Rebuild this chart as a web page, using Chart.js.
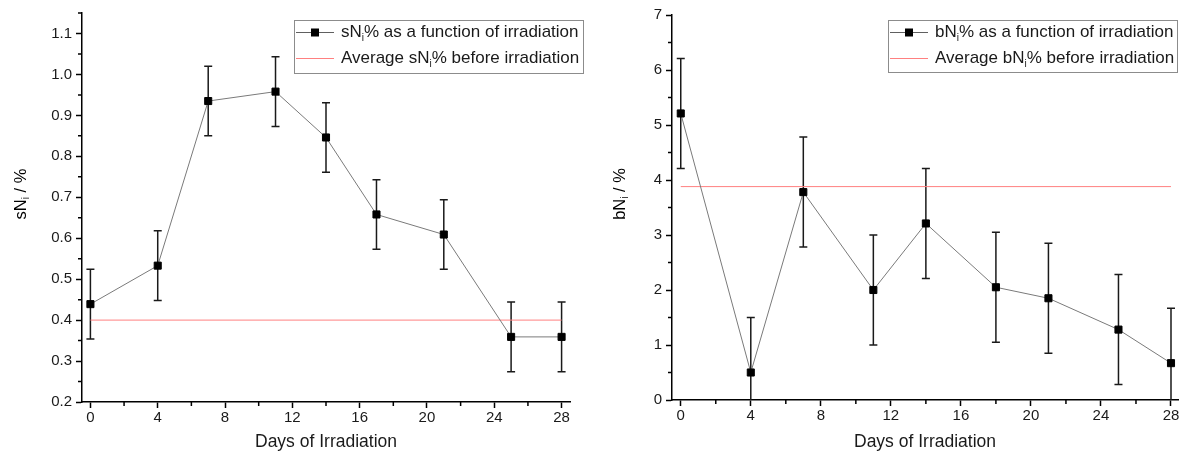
<!DOCTYPE html>
<html>
<head>
<meta charset="utf-8">
<script src="https://cdn.jsdelivr.net/npm/chart.js@4"></script>
<style>
  body { margin: 0; background: #fff; }
  .box { position: absolute; top: 0; width: 592px; height: 461px; }
  #left { left: 0; }
  #right { left: 592px; }
</style>
</head>
<body>
<div class="box" id="left"><canvas id="chartS"></canvas></div>
<div class="box" id="right"><canvas id="chartB"></canvas></div>
<script>
// data
const xTicks = [0, 4, 8, 12, 16, 20, 24, 28]
const xMinor = [2, 6, 10, 14, 18, 22, 26]

const daysS = [0, 4, 7, 11, 14, 17, 21, 25, 28]
const sNi = [0.439, 0.533, 0.935, 0.958, 0.846, 0.658, 0.609, 0.359, 0.359]
const sNiErr = [0.085, 0.085, 0.085, 0.085, 0.085, 0.085, 0.085, 0.085, 0.085]
const sNiAvg = 0.4
const sTicks = [0.2, 0.3, 0.4, 0.5, 0.6, 0.7, 0.8, 0.9, 1.0, 1.1]
const sMinor = [0.25, 0.35, 0.45, 0.55, 0.65, 0.75, 0.85, 0.95, 1.05, 1.15]

const daysB = [0, 4, 7, 11, 14, 18, 21, 25, 28]
const bNi = [5.21, 0.50, 3.78, 2.00, 3.21, 2.05, 1.85, 1.28, 0.67]
const bNiErr = [1.0, 1.0, 1.0, 1.0, 1.0, 1.0, 1.0, 1.0, 1.0]
const bNiAvg = 3.88
const bTicks = [0, 1, 2, 3, 4, 5, 6, 7]
const bMinor = [0.5, 1.5, 2.5, 3.5, 4.5, 5.5, 6.5]

const FONT = '"Liberation Sans", Arial, sans-serif'
const RED = '#ff8080'

// draws error bars, minor ticks, y title with subscript and the boxed legend
function extras(cfg) {
  return {
    id: 'extras',
    beforeDatasetsDraw(chart) {
      const ctx = chart.ctx, x = chart.scales.x, y = chart.scales.y, a = chart.chartArea
      ctx.save()
      ctx.beginPath()
      ctx.rect(a.left, a.top - 2, a.right - a.left, a.bottom - a.top + 2)
      ctx.clip()
      ctx.strokeStyle = '#1a1a1a'
      ctx.lineWidth = 1.5
      cfg.days.forEach((d, i) => {
        const px = x.getPixelForValue(d)
        const top = y.getPixelForValue(cfg.vals[i] + cfg.err[i])
        const bot = y.getPixelForValue(cfg.vals[i] - cfg.err[i])
        ctx.beginPath()
        ctx.moveTo(px, top); ctx.lineTo(px, bot)
        ctx.moveTo(px - 4, top); ctx.lineTo(px + 4, top)
        ctx.moveTo(px - 4, bot); ctx.lineTo(px + 4, bot)
        ctx.stroke()
      })
      ctx.restore()
    },
    afterDraw(chart) {
      const ctx = chart.ctx, x = chart.scales.x, y = chart.scales.y, a = chart.chartArea
      ctx.save()
      ctx.strokeStyle = '#000'
      ctx.lineWidth = 1.5
      ctx.beginPath()
      xMinor.forEach(v => {
        const px = x.getPixelForValue(v)
        ctx.moveTo(px, a.bottom); ctx.lineTo(px, a.bottom + 4)
      })
      cfg.yMinor.forEach(v => {
        const py = y.getPixelForValue(v)
        if (py < a.top - 1) return
        ctx.moveTo(a.left, py); ctx.lineTo(a.left - 4, py)
      })
      ctx.stroke()

      // y title, rotated, with subscript i
      ctx.fillStyle = '#000'
      ctx.translate(cfg.titleX, cfg.titleY)
      ctx.rotate(-Math.PI / 2)
      ctx.textBaseline = 'middle'
      const p1 = cfg.prefix + 'N', p2 = ' / %'
      ctx.font = '16.5px ' + FONT
      const w1 = ctx.measureText(p1).width
      const w2 = ctx.measureText(p2).width
      ctx.font = '10px ' + FONT
      const ws = ctx.measureText('i').width
      let sx = -(w1 + ws + w2) / 2
      ctx.font = '16.5px ' + FONT
      ctx.textAlign = 'left'
      ctx.fillText(p1, sx, 0)
      ctx.font = '10px ' + FONT
      ctx.fillText('i', sx + w1, 5)
      ctx.font = '16.5px ' + FONT
      ctx.fillText(p2, sx + w1 + ws, 0)
      ctx.setTransform(1, 0, 0, 1, 0, 0)

      // legend
      const L = cfg.legend
      ctx.strokeStyle = '#8c8c8c'
      ctx.lineWidth = 1
      ctx.strokeRect(L.x + 0.5, L.y + 0.5, L.w, L.h)
      const rows = [
        { y: L.y + 12.5, pre: cfg.prefix + 'N', post: '% as a function of irradiation', sym: true },
        { y: L.y + 38.5, pre: 'Average ' + cfg.prefix + 'N', post: '% before irradiation', sym: false }
      ]
      rows.forEach(r => {
        ctx.beginPath()
        ctx.strokeStyle = r.sym ? '#606060' : RED
        ctx.lineWidth = 1
        ctx.moveTo(L.x + 2, r.y); ctx.lineTo(L.x + 40, r.y)
        ctx.stroke()
        if (r.sym) {
          ctx.fillStyle = '#000'
          ctx.fillRect(L.x + 17, r.y - 4, 8, 8)
        }
        ctx.fillStyle = '#1a1a1a'
        ctx.textBaseline = 'middle'
        ctx.font = '17px ' + FONT
        let tx = L.x + 47
        ctx.fillText(r.pre, tx, r.y)
        tx += ctx.measureText(r.pre).width
        ctx.font = '10px ' + FONT
        ctx.fillText('i', tx, r.y + 6)
        tx += ctx.measureText('i').width
        ctx.font = '17px ' + FONT
        ctx.fillText(r.post, tx, r.y)
      })
      ctx.restore()
    }
  }
}

function makeChart(id, cfg) {
  const lineData = cfg.days.map((d, i) => ({ x: d, y: cfg.vals[i] }))
  const avgData = [{ x: 0, y: cfg.avg }, { x: 28, y: cfg.avg }]
  return new Chart(document.getElementById(id), {
    type: 'scatter',
    data: {
      datasets: [
        {
          data: avgData,
          showLine: true,
          borderColor: RED,
          borderWidth: 1,
          pointRadius: 0,
          order: 2
        },
        {
          data: lineData,
          showLine: true,
          borderColor: '#7a7a7a',
          borderWidth: 1,
          pointStyle: 'rect',
          pointRadius: 5,
          pointBorderWidth: 1,
          pointBackgroundColor: '#000',
          pointBorderColor: '#000',
          order: 1
        }
      ]
    },
    options: {
      responsive: true,
      maintainAspectRatio: false,
      animation: false,
      layout: { padding: cfg.padding },
      plugins: { legend: { display: false }, tooltip: { enabled: false } },
      scales: {
        x: {
          type: 'linear',
          min: -0.5,
          max: cfg.xMax,
          afterBuildTicks: s => { s.ticks = xTicks.map(v => ({ value: v })) },
          afterFit: s => { s.height = cfg.xHeight },
          grid: { drawOnChartArea: false, tickLength: 6, tickColor: '#000', tickWidth: 1.5 },
          border: { color: '#000', width: 1.5 },
          ticks: { color: '#1a1a1a', font: { family: FONT, size: 15 }, padding: 1, maxRotation: 0 },
          title: {
            display: true,
            text: 'Days of Irradiation',
            color: '#1a1a1a',
            font: { family: FONT, size: 17.5 },
            padding: { top: 0, bottom: 8 }
          }
        },
        y: {
          type: 'linear',
          min: cfg.yMin,
          max: cfg.yMax,
          afterBuildTicks: s => { s.ticks = cfg.yTicks.map(v => ({ value: v })) },
          afterFit: s => { s.width = cfg.yWidth },
          grid: { drawOnChartArea: false, tickLength: 6, tickColor: '#000', tickWidth: 1.5 },
          border: { color: '#000', width: 1.5 },
          ticks: {
            color: '#1a1a1a',
            font: { family: FONT, size: 15 },
            padding: 4,
            callback: v => cfg.fmt(v)
          }
        }
      }
    },
    plugins: [extras(cfg)]
  })
}

makeChart('chartS', {
  days: daysS, vals: sNi, err: sNiErr, avg: sNiAvg,
  yMin: 0.2, yMax: 1.15, yTicks: sTicks, yMinor: sMinor, fmt: v => v.toFixed(1),
  xMax: 28.5, yWidth: 82, xHeight: 59,
  padding: { left: 0, top: 12, right: 22, bottom: 0 },
  prefix: 's', titleX: 21, titleY: 194,
  legend: { x: 294, y: 20, w: 289, h: 53 }
})

makeChart('chartB', {
  days: daysB, vals: bNi, err: bNiErr, avg: bNiAvg,
  yMin: 0, yMax: 7, yTicks: bTicks, yMinor: bMinor, fmt: v => String(v),
  xMax: 28.4, yWidth: 80, xHeight: 61,
  padding: { left: 0, top: 15, right: 6, bottom: 0 },
  prefix: 'b', titleX: 28, titleY: 194,
  legend: { x: 296, y: 20, w: 289, h: 52 }
})
</script>
</body>
</html>
